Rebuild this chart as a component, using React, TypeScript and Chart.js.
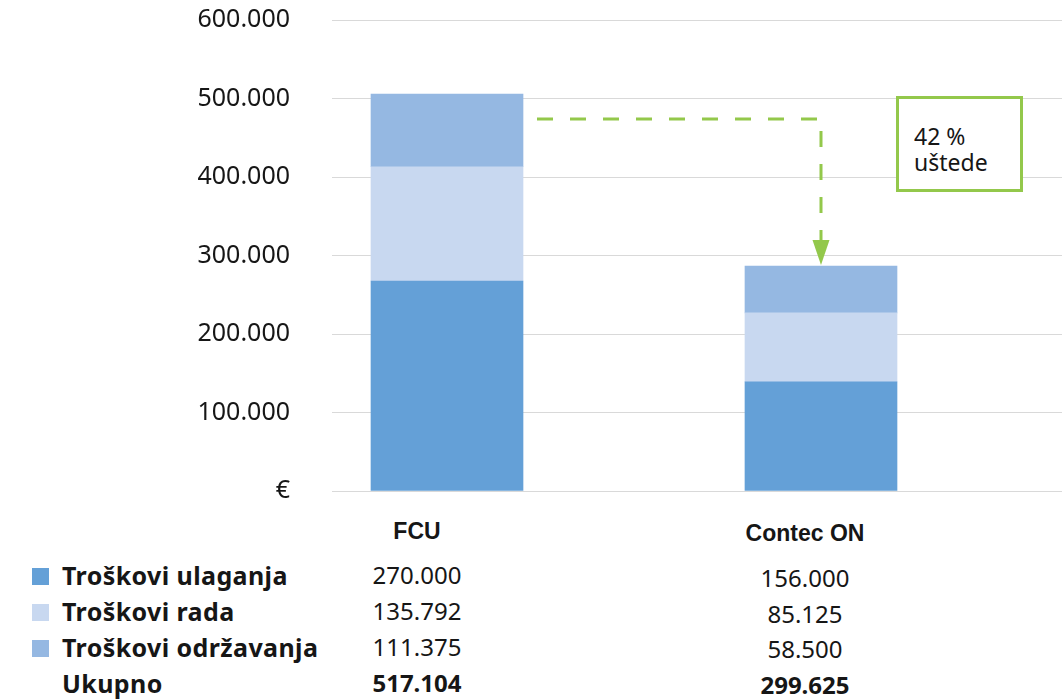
import React, { useEffect, useRef } from "react";
import { Chart, registerables } from "chart.js";

Chart.register(...registerables);

// ---- data ----
const categories = ["FCU", "Contec ON"];
const seriesNames = ["Troškovi ulaganja", "Troškovi rada", "Troškovi održavanja"];
const seriesColors = ["#64a0d7", "#c8d8f0", "#95b8e2"];
// bar heights as drawn in the picture
const ulaganjaBars = [267500, 139000];
const radaBars = [145600, 87900];
const odrzavanjaBars = [92600, 59700];
// values printed in the table
const fcuTable = ["270.000", "135.792", "111.375"];
const contecTable = ["156.000", "85.125", "58.500"];
const totalLabel = "Ukupno";
const totalsTable = ["517.104", "299.625"];
const yTickValues = [0, 100000, 200000, 300000, 400000, 500000, 600000];
const savingLine1 = "42 %";
const savingLine2 = "uštede";
const arrowLevel = 474000;

const GREEN = "#93c84b";
const TEXT = "#161616";

const fmt = (v: number) => (v === 0 ? "€" : v.toLocaleString("de-DE"));

const arrowPlugin = {
  id: "savingArrow",
  afterDatasetsDraw(chart: any) {
    const { ctx, scales } = chart;
    const x = scales.x;
    const y = scales.y;
    const yLine = y.getPixelForValue(arrowLevel);
    const xStart = x.getPixelForValue(0) + 90;
    const xEnd = x.getPixelForValue(1);
    const contecTotal = ulaganjaBars[1] + radaBars[1] + odrzavanjaBars[1];
    const tip = y.getPixelForValue(contecTotal) - 1;
    ctx.save();
    ctx.strokeStyle = GREEN;
    ctx.fillStyle = GREEN;
    ctx.lineWidth = 3;
    ctx.setLineDash([16, 17]);
    ctx.beginPath();
    ctx.moveTo(xStart, yLine);
    ctx.lineTo(xEnd - 4, yLine);
    ctx.stroke();
    ctx.beginPath();
    ctx.moveTo(xEnd, yLine + 12);
    ctx.lineTo(xEnd, tip - 25);
    ctx.stroke();
    ctx.setLineDash([]);
    ctx.beginPath();
    ctx.moveTo(xEnd - 8.5, tip - 25);
    ctx.lineTo(xEnd + 8.5, tip - 25);
    ctx.lineTo(xEnd, tip);
    ctx.closePath();
    ctx.fill();
    ctx.restore();
  },
};

const abs = (style: React.CSSProperties): React.CSSProperties => ({
  position: "absolute",
  whiteSpace: "nowrap",
  ...style,
});

export default function App() {
  const ref = useRef<HTMLCanvasElement>(null);

  useEffect(() => {
    if (!ref.current) return;
    const mk = (vals: number[]) => vals.map((v, i) => ({ x: i, y: v }));
    const chart = new Chart(ref.current, {
      type: "bar",
      data: {
        datasets: [
          { label: seriesNames[0], data: mk(ulaganjaBars), backgroundColor: seriesColors[0] },
          { label: seriesNames[1], data: mk(radaBars), backgroundColor: seriesColors[1] },
          { label: seriesNames[2], data: mk(odrzavanjaBars), backgroundColor: seriesColors[2] },
        ] as any,
      },
      options: {
        animation: false,
        responsive: false,
        devicePixelRatio: 1,
        layout: { padding: { top: 20, bottom: 19, left: 0, right: 0 } },
        datasets: { bar: { barThickness: 152 } } as any,
        plugins: { legend: { display: false }, tooltip: { enabled: false } },
        scales: {
          x: {
            type: "linear",
            min: -0.3075,
            max: 1.6444,
            offset: false,
            stacked: true,
            display: false,
          },
          y: {
            stacked: true,
            min: 0,
            max: 600000,
            afterFit: (s: any) => {
              s.width = 332;
              s.paddingTop = 0;
              s.paddingBottom = 0;
            },
            afterBuildTicks: (s: any) => {
              s.ticks = yTickValues.map((v) => ({ value: v }));
            },
            border: { display: false },
            grid: { color: "#d9d9d9", lineWidth: 1, drawTicks: false },
            ticks: {
              padding: 42,
              color: TEXT,
              font: { family: "'Noto Sans'", size: 25 },
              callback: (v: any) => fmt(Number(v)),
            },
          },
        },
      },
      plugins: [arrowPlugin],
    });
    return () => chart.destroy();
  }, []);

  const rowsY = [576, 612, 648, 684];
  const contecY = [579, 615, 650, 686];
  const labelFont: React.CSSProperties = {
    fontFamily: "'Noto Sans'",
    fontWeight: 700,
    fontSize: 25,
    letterSpacing: "0.4px",
    lineHeight: "36px",
    color: TEXT,
  };
  const numFont: React.CSSProperties = {
    fontFamily: "'Noto Sans'",
    fontWeight: 400,
    fontSize: 24,
    lineHeight: "36px",
    color: TEXT,
  };
  const headFont: React.CSSProperties = {
    fontFamily: "'Liberation Sans', Arial",
    fontWeight: 700,
    fontSize: 23,
    lineHeight: "36px",
    color: TEXT,
  };
  const center = (cx: number, cy: number, style: React.CSSProperties, text: string, key?: any) => (
    <div key={key} style={abs({ ...style, left: cx - 150, width: 300, textAlign: "center", top: cy - 19, height: 36 })}>
      {text}
    </div>
  );

  return (
    <div style={{ position: "absolute", left: 0, top: 0, width: 1062, height: 699, background: "#fff", overflow: "hidden" }}>
      <canvas ref={ref} width={1062} height={510} style={{ position: "absolute", left: 0, top: 0 }} />

      {/* savings box */}
      <div
        style={abs({
          left: 896,
          top: 96,
          width: 127,
          height: 96,
          boxSizing: "border-box",
          border: `3px solid ${GREEN}`,
          background: "#fff",
        })}
      />
      <div style={abs({ left: 914, top: 123, fontFamily: "'Noto Sans'", fontSize: 23, lineHeight: "26px", color: TEXT })}>
        {savingLine1}
        <br />
        {savingLine2}
      </div>

      {/* table headers */}
      {center(417, 532, headFont, categories[0])}
      {center(805, 534, headFont, categories[1])}

      {/* legend rows */}
      {seriesNames.map((n, i) => (
        <React.Fragment key={n}>
          <div style={abs({ left: 32, top: rowsY[i] - 8, width: 17, height: 17, background: seriesColors[i] })} />
          <div style={abs({ ...labelFont, left: 62, top: rowsY[i] - 19, height: 36 })}>{n}</div>
          {center(417, rowsY[i], numFont, fcuTable[i])}
          {center(805, contecY[i], numFont, contecTable[i])}
        </React.Fragment>
      ))}
      <div style={abs({ ...labelFont, left: 62, top: rowsY[3] - 19, height: 36 })}>{totalLabel}</div>
      {center(417, rowsY[3], { ...numFont, fontWeight: 700 }, totalsTable[0])}
      {center(805, contecY[3], { ...numFont, fontWeight: 700 }, totalsTable[1])}
    </div>
  );
}
